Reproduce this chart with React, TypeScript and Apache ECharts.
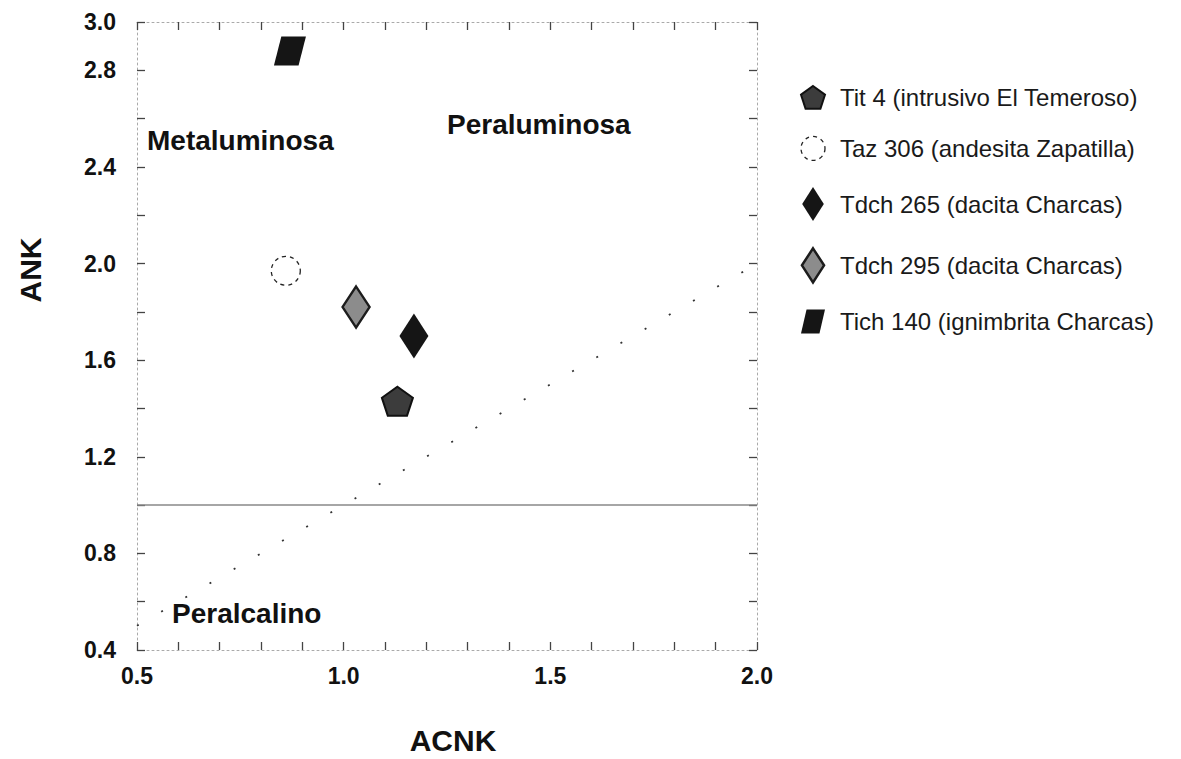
import React, { useEffect, useRef } from "react";
import * as echarts from "echarts";

// ---- data ----
const sampleNames = [
  "Tit 4 (intrusivo El Temeroso)",
  "Taz 306 (andesita Zapatilla)",
  "Tdch 265 (dacita Charcas)",
  "Tdch 295 (dacita Charcas)",
  "Tich 140 (ignimbrita Charcas)",
];
const acnkValues = [1.13, 0.86, 1.17, 1.03, 0.87];
const ankValues = [1.43, 1.97, 1.7, 1.82, 2.88];
const yTickLabels = ["0.4", "0.8", "1.2", "1.6", "2.0", "2.4", "2.8", "3.0"];
const xTickLabels = ["0.5", "1.0", "1.5", "2.0"];
const horizontalLineX = [0.5, 2.0];
const horizontalLineY = [1.0, 1.0];
const diagonalX = [0.5, 2.0];
const diagonalY = [0.5, 2.0];
const regionLabels = ["Metaluminosa", "Peraluminosa", "Peralcalino"];

const FONT = "'Liberation Sans', Arial, sans-serif";

const PENTAGON = "path://M50,0 L97.6,34.5 L79.4,90.5 L20.6,90.5 L2.4,34.5 Z";
const PARALLELOGRAM = "path://M6,0 L26,0 L20,26 L0,26 Z";
const TALL_DIAMOND = "path://M14,0 L28,22 L14,44 L0,22 Z";
const DIAMOND_295 = "path://M13,0 L26,20 L13,40 L0,20 Z";

const markerStyles: any[] = [
  { symbol: PENTAGON, symbolSize: [31, 29], itemStyle: { color: "#3c3c3c", borderColor: "#111", borderWidth: 2, opacity: 1 } },
  { symbol: "circle", symbolSize: 29, itemStyle: { color: "rgba(255,255,255,0)", borderColor: "#222", borderWidth: 1.3, borderType: [4, 4], opacity: 1 } },
  { symbol: TALL_DIAMOND, symbolSize: [29, 45], itemStyle: { color: "#151515", borderWidth: 0, opacity: 1 } },
  { symbol: DIAMOND_295, symbolSize: [27, 41], itemStyle: { color: "#8c8c8c", borderColor: "#1c1c1c", borderWidth: 2.5, opacity: 1 } },
  { symbol: PARALLELOGRAM, symbolSize: [32, 29], itemStyle: { color: "#151515", opacity: 1 } },
];

export default function App() {
  const ref = useRef<HTMLDivElement>(null);
  useEffect(() => {
    if (!ref.current) return;
    const chart = echarts.init(ref.current, undefined, { renderer: "svg" });
    const yFmt = (v: number) => {
      const s = (Math.round(v * 10) / 10).toFixed(1);
      return yTickLabels.includes(s) ? s : "";
    };
    const xFmt = (v: number) => {
      const s = (Math.round(v * 10) / 10).toFixed(1);
      return xTickLabels.includes(s) ? s : "";
    };
    const axisLine = { show: true, lineStyle: { color: "#aaa", width: 1, type: [2, 3] } };
    const axisTick = { show: true, inside: true, length: 8, lineStyle: { color: "#444", width: 1.3 } };
    const labelStyle = { fontFamily: FONT, fontWeight: "bold", fontSize: 23, color: "#111" };

    const scatterSeries = sampleNames.map((name, i) => ({
      name,
      type: "scatter",
      xAxisIndex: 0,
      yAxisIndex: 0,
      data: [[acnkValues[i], ankValues[i]]],
      symbol: markerStyles[i].symbol,
      symbolSize: markerStyles[i].symbolSize,
      itemStyle: markerStyles[i].itemStyle,
      z: 5,
    }));

    chart.setOption({
      animation: false,
      backgroundColor: "#fff",
      grid: { left: 137, right: 424, top: 22, bottom: 109, containLabel: false },
      xAxis: [
        {
          type: "value", position: "bottom", min: 0.5, max: 2.0, interval: 0.1,
          axisLine, axisTick, splitLine: { show: false },
          axisLabel: { ...labelStyle, formatter: xFmt, margin: 14, showMinLabel: true, showMaxLabel: true },
        },
        {
          type: "value", position: "top", min: 0.5, max: 2.0, interval: 0.1,
          axisLine, axisTick, splitLine: { show: false }, axisLabel: { show: false },
        },
      ],
      yAxis: [
        {
          type: "value", position: "left", min: 0.4, max: 3.0, interval: 0.2,
          axisLine, axisTick, splitLine: { show: false },
          axisLabel: { ...labelStyle, formatter: yFmt, margin: 21, showMinLabel: true, showMaxLabel: true },
        },
        {
          type: "value", position: "right", min: 0.4, max: 3.0, interval: 0.2,
          axisLine, axisTick, splitLine: { show: false }, axisLabel: { show: false },
        },
      ],
      legend: {
        orient: "vertical",
        left: 795,
        top: 80,
        itemWidth: 24,
        itemHeight: 34,
        itemGap: 26,
        textStyle: { fontFamily: FONT, fontSize: 24, color: "#1a1a1a", padding: [0, 0, 0, 10] },
        data: sampleNames.map((name, i) => ({
          name,
          icon: markerStyles[i].symbol,
          itemStyle: markerStyles[i].itemStyle,
        })),
      },
      series: [
        {
          type: "line",
          data: horizontalLineX.map((x, i) => [x, horizontalLineY[i]]),
          symbol: "none",
          lineStyle: { color: "#888", width: 1.5, type: "solid" },
          silent: true,
          z: 2,
        },
        {
          type: "line",
          data: diagonalX.map((x, i) => [x, diagonalY[i]]),
          symbol: "none",
          lineStyle: { color: "#333", width: 1.8, type: [2, 26] },
          silent: true,
          z: 2,
        },
        ...scatterSeries,
      ],
      graphic: [
        {
          type: "text", x: 30, y: 270, rotation: Math.PI / 2,
          style: { text: "ANK", font: `bold 30px ${FONT}`, fill: "#111", textAlign: "center", textVerticalAlign: "middle" },
        },
        {
          type: "text", x: 453, y: 740,
          style: { text: "ACNK", font: `bold 30px ${FONT}`, fill: "#111", textAlign: "center", textVerticalAlign: "middle" },
        },
        {
          type: "text", x: 147, y: 140,
          style: { text: regionLabels[0], font: `bold 28px ${FONT}`, fill: "#111", textAlign: "left", textVerticalAlign: "middle" },
        },
        {
          type: "text", x: 447, y: 124,
          style: { text: regionLabels[1], font: `bold 28px ${FONT}`, fill: "#111", textAlign: "left", textVerticalAlign: "middle" },
        },
        {
          type: "text", x: 172, y: 613,
          style: { text: regionLabels[2], font: `bold 28px ${FONT}`, fill: "#111", textAlign: "left", textVerticalAlign: "middle" },
        },
      ],
    });
    return () => chart.dispose();
  }, []);
  return (
    <div
      ref={ref}
      style={{ position: "fixed", left: 0, top: 0, width: 1181, height: 759, background: "#fff" }}
    />
  );
}
